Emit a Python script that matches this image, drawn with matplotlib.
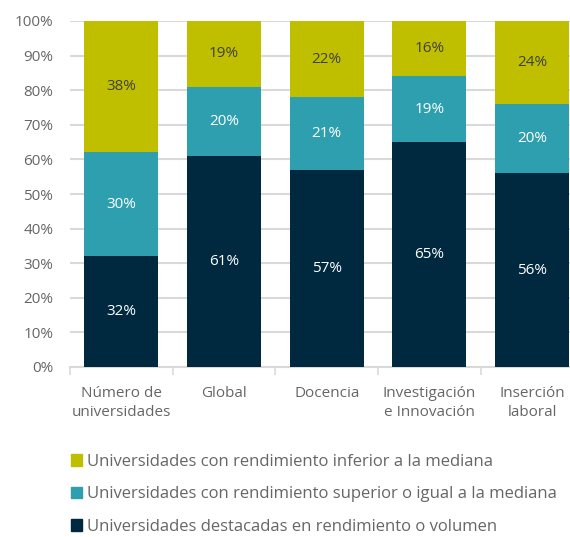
import numpy as np
import matplotlib
matplotlib.use('Agg')
from matplotlib import pyplot as plt
from matplotlib.patches import Patch

plt.rcParams['font.family'] = ['Open Sans', 'DejaVu Sans']

categorias = ['Número de\nuniversidades', 'Global', 'Docencia',
              'Investigación\ne Innovación', 'Inserción\nlaboral']
destacadas = [32, 61, 57, 65, 56]
superior = [30, 20, 21, 19, 20]
inferior = [38, 19, 22, 16, 24]

nombres = ['Universidades destacadas en rendimiento o volumen',
           'Universidades con rendimiento superior o igual a la mediana',
           'Universidades con rendimiento inferior a la mediana']
colores = ['#002940', '#2E9FAE', '#BFBF00']
color_texto = ['white', 'white', '#404040']
gris = '#666666'

fig = plt.figure(figsize=(5.7, 5.37), dpi=100)
ax = fig.add_axes([70 / 570, 1 - 367 / 537, 513.5 / 570, 346 / 537])

x = np.arange(len(categorias))
base = np.zeros(len(categorias))
series = [destacadas, superior, inferior]
for vals, col, tc in zip(series, colores, color_texto):
    vals = np.array(vals, dtype=float)
    ax.bar(x, vals, bottom=base, width=0.72, color=col, zorder=3)
    for xi, b, v in zip(x, base, vals):
        ax.text(xi, b + v / 2, '%d%%' % round(v), ha='center', va='center',
                color=tc, fontsize=11, zorder=4)
    base = base + vals

ax.set_xlim(-0.5, len(categorias) - 0.5)
ax.set_ylim(0, 100)
ax.set_yticks(np.arange(0, 101, 10))
ax.set_yticklabels(['%d%%' % v for v in range(0, 101, 10)])
ax.yaxis.grid(True, color='#d9d9d9', linewidth=1.5, zorder=0)
ax.tick_params(axis='y', length=0, pad=12, labelcolor=gris, labelsize=11)

ax.set_xticks(x)
ax.set_xticklabels(categorias, linespacing=1.3)
ax.tick_params(axis='x', length=0, pad=14, labelcolor=gris, labelsize=11)
ax.set_xticks(np.arange(-0.5, len(categorias), 1), minor=True)
ax.tick_params(axis='x', which='minor', length=6, color='#d9d9d9', width=1.2)

for s in ['top', 'right', 'left']:
    ax.spines[s].set_visible(False)
ax.spines['bottom'].set_color('#d9d9d9')
ax.spines['bottom'].set_linewidth(1.5)

handles = [Patch(color=colores[i]) for i in [2, 1, 0]]
labels = [nombres[i] for i in [2, 1, 0]]
fig.legend(handles, labels, loc='upper left', bbox_to_anchor=(64 / 570, 1 - 447 / 537),
           frameon=False, handlelength=0.7, handleheight=0.7, handletextpad=0.3,
           labelspacing=1.0, fontsize=12, labelcolor=gris, borderaxespad=0)

fig.savefig('out.png', dpi=100)
